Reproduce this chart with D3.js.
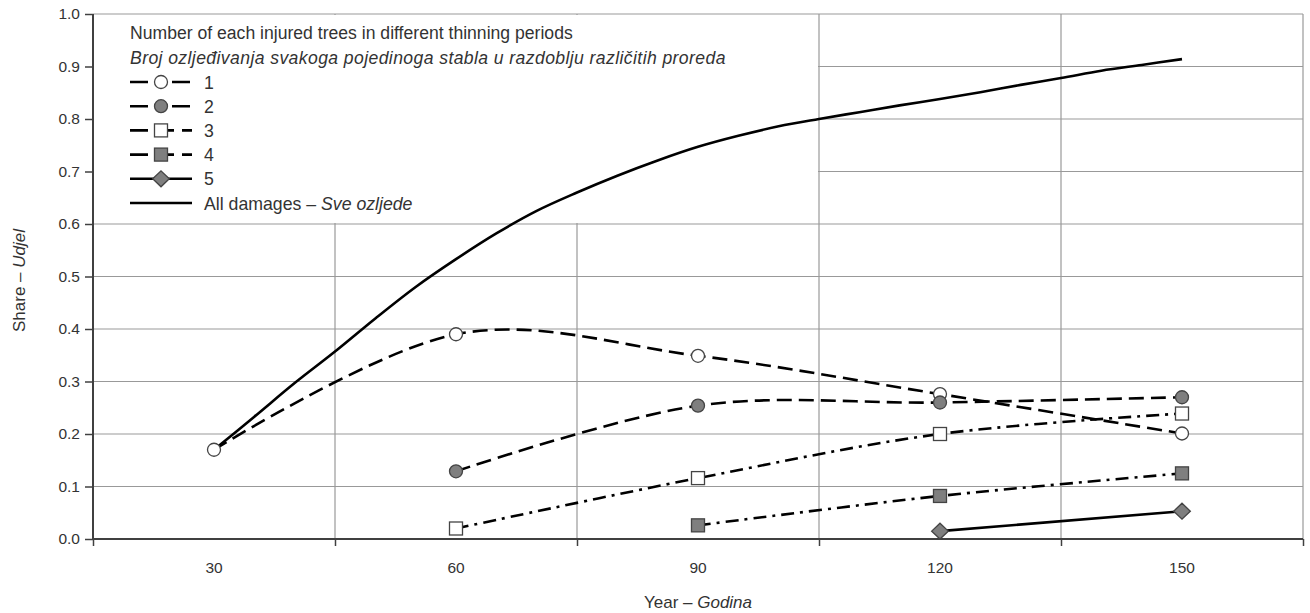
<!DOCTYPE html>
<html>
<head>
<meta charset="utf-8">
<script src="https://cdn.jsdelivr.net/npm/d3@7"></script>
<style>
  body { margin: 0; background: #fff; }
  svg text { font-family: "Liberation Sans", Arial, sans-serif; fill: #333; }
</style>
</head>
<body>
<svg id="chart" width="1310" height="613"></svg>
<script>
// categories (years) shown on the x axis
const years = [30, 60, 90, 120, 150];
const yTicks = [0, 0.1, 0.2, 0.3, 0.4, 0.5, 0.6, 0.7, 0.8, 0.9, 1.0];

// share of trees injured 1..5 times, per thinning period
const injured1 = [0.17, 0.39, 0.349, 0.276, 0.201];
const injured2 = [null, 0.129, 0.254, 0.26, 0.27];
const injured3 = [null, 0.02, 0.116, 0.20, 0.239];
const injured4 = [null, null, 0.026, 0.082, 0.125];
const injured5 = [null, null, null, 0.015, 0.053];

// all damages curve, read every 5 years
const allYears = [30, 35, 40, 45, 50, 55, 60, 65, 70, 75, 80, 85, 90, 95, 100, 105, 110, 115, 120, 125, 130, 135, 140, 145, 150];
const allDamages = [0.17, 0.233, 0.297, 0.357, 0.42, 0.48, 0.533, 0.582, 0.625, 0.66, 0.692, 0.721, 0.747, 0.768, 0.786, 0.80, 0.813, 0.826, 0.838, 0.851, 0.865, 0.878, 0.892, 0.903, 0.914];

const legendTitle1 = 'Number of each injured trees in different thinning periods';
const legendTitle2 = 'Broj ozljeđivanja svakoga pojedinoga stabla u razdoblju različitih proreda';

const svg = d3.select('#chart');
const plotLeft = 93, plotRight = 1303, plotTop = 14, plotBottom = 539;

const x = d3.scaleLinear().domain([15, 165]).range([plotLeft, plotRight]);
const y = d3.scaleLinear().domain([0, 1]).range([plotBottom, plotTop]);

const gridColor = '#999';
const axisColor = '#404040';
const markFill = '#7f7f7f';

// grid lines
svg.append('g').selectAll('line').data(yTicks.slice(1)).join('line')
    .attr('x1', plotLeft).attr('x2', plotRight)
    .attr('y1', d => y(d)).attr('y2', d => y(d))
    .attr('stroke', gridColor).attr('stroke-width', 1.2);
svg.append('g').selectAll('line').data([45, 75, 105, 135, 165]).join('line')
    .attr('x1', d => x(d)).attr('x2', d => x(d))
    .attr('y1', plotTop).attr('y2', plotBottom)
    .attr('stroke', gridColor).attr('stroke-width', 1.2);

// legend box covers the grid in the upper left
svg.append('rect')
    .attr('x', plotLeft + 1).attr('y', plotTop + 1)
    .attr('width', x(105) - plotLeft - 2).attr('height', y(0.6) - plotTop - 2)
    .attr('fill', '#fff');

// axes
const yAxis = svg.append('g').attr('transform', `translate(${plotLeft},0)`)
    .call(d3.axisLeft(y).tickValues(yTicks).tickFormat(d3.format('.1f')).tickSize(8).tickPadding(5));
const xAxis = svg.append('g').attr('transform', `translate(0,${plotBottom})`)
    .call(d3.axisBottom(x).tickValues([15, 45, 75, 105, 135, 165]).tickFormat('').tickSize(7));
[yAxis, xAxis].forEach(g => {
    g.select('.domain').attr('stroke', axisColor).attr('stroke-width', 2);
    g.selectAll('.tick line').attr('stroke', axisColor).attr('stroke-width', 1.5);
    g.selectAll('.tick text').attr('font-size', 15.5).attr('fill', '#333')
        .attr('font-family', '"Liberation Sans", Arial, sans-serif');
});
yAxis.select('.domain').attr('d', `M0,${plotTop}V${plotBottom}`);
xAxis.select('.domain').attr('d', `M${plotLeft},0H${plotRight}`);

svg.append('g').selectAll('text').data(years).join('text')
    .attr('x', d => x(d)).attr('y', 573)
    .attr('text-anchor', 'middle').attr('font-size', 15.5)
    .text(d => d);

// axis titles
const xTitle = svg.append('text').attr('x', x(90)).attr('y', 608)
    .attr('text-anchor', 'middle').attr('font-size', 17);
xTitle.append('tspan').text('Year – ');
xTitle.append('tspan').attr('font-style', 'italic').text('Godina');

const yTitle = svg.append('text')
    .attr('transform', `translate(25,${(plotTop + plotBottom) / 2 + 4}) rotate(-90)`)
    .attr('text-anchor', 'middle').attr('font-size', 17);
yTitle.append('tspan').text('Share – ');
yTitle.append('tspan').attr('font-style', 'italic').text('Udjel');

// series
const series = [
    {name: '1', values: injured1, dash: '15,7', shape: 'circle', fill: '#fff'},
    {name: '2', values: injured2, dash: '15,7', shape: 'circle', fill: markFill},
    {name: '3', values: injured3, dash: '13,6,3,6', shape: 'square', fill: '#fff'},
    {name: '4', values: injured4, dash: '13,6,3,6', shape: 'square', fill: markFill},
    {name: '5', values: injured5, dash: null, shape: 'diamond', fill: markFill},
];

const curve = d3.curveCatmullRom.alpha(0);
const line = d3.line()
    .x(d => x(d[0])).y(d => y(d[1]))
    .curve(curve);

svg.append('path')
    .datum(d3.zip(allYears, allDamages))
    .attr('d', line)
    .attr('fill', 'none').attr('stroke', '#000').attr('stroke-width', 2.6);

function drawMarker(g, shape, fill, cx, cy) {
    if (shape === 'circle') {
        g.append('circle').attr('cx', cx).attr('cy', cy).attr('r', 6.5)
            .attr('fill', fill).attr('stroke', '#444').attr('stroke-width', 1.3);
    } else if (shape === 'square') {
        g.append('rect').attr('x', cx - 6.5).attr('y', cy - 6.5).attr('width', 13).attr('height', 13)
            .attr('fill', fill).attr('stroke', '#444').attr('stroke-width', 1.3);
    } else {
        g.append('path').attr('d', d3.symbol(d3.symbolDiamond2, 160)())
            .attr('transform', `translate(${cx},${cy}) scale(1.05,1)`)
            .attr('fill', fill).attr('stroke', '#444').attr('stroke-width', 1.3);
    }
}

series.forEach(s => {
    const pts = d3.zip(years, s.values).filter(d => d[1] != null);
    svg.append('path')
        .datum(pts)
        .attr('d', line)
        .attr('fill', 'none').attr('stroke', '#000').attr('stroke-width', 2.6)
        .attr('stroke-dasharray', s.dash);
});
series.forEach(s => {
    const g = svg.append('g');
    d3.zip(years, s.values).filter(d => d[1] != null)
        .forEach(d => drawMarker(g, s.shape, s.fill, x(d[0]), y(d[1])));
});

// legend
const legend = svg.append('g');
legend.append('text').attr('x', 130).attr('y', 39).attr('font-size', 17.6).text(legendTitle1);
legend.append('text').attr('x', 130).attr('y', 64).attr('font-size', 17.6)
    .attr('font-style', 'italic').attr('letter-spacing', 0.4).text(legendTitle2);

const legendRows = series.concat([{name: 'All damages', dash: null, shape: null}]);
legendRows.forEach((s, i) => {
    const cy = 82 + i * 24.2;
    legend.append('line')
        .attr('x1', 130).attr('x2', 192).attr('y1', cy).attr('y2', cy)
        .attr('stroke', '#000').attr('stroke-width', 2.6)
        .attr('stroke-dasharray', s.dash ? (s.dash.split(',').length > 2 ? '18,8' : '18,8,8,8') : null);
    if (s.shape) drawMarker(legend, s.shape, s.fill, 161, cy);
    const t = legend.append('text').attr('x', 204).attr('y', cy + 6.5).attr('font-size', 17.7);
    if (s.shape) {
        t.text(s.name);
    } else {
        t.append('tspan').text('All damages – ');
        t.append('tspan').attr('font-style', 'italic').text('Sve ozljede');
    }
});
</script>
</body>
</html>
